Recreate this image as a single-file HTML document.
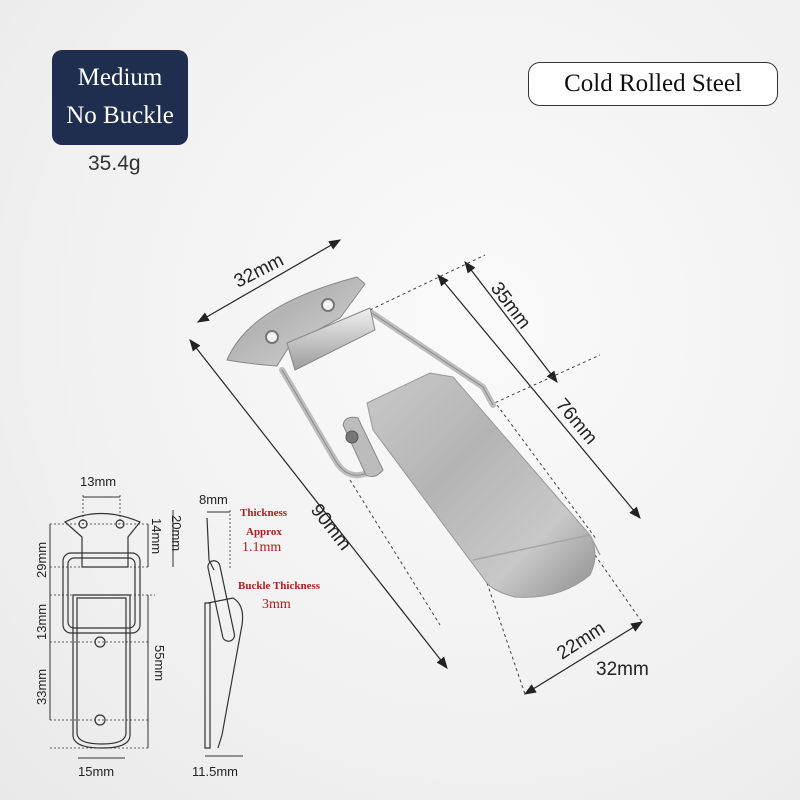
<!DOCTYPE html>
<html><head><meta charset="utf-8"><style>
html,body{margin:0;padding:0;}
body{width:800px;height:800px;overflow:hidden;background:radial-gradient(ellipse at 60% 40%,#fafafa 0%,#f1f1f1 60%,#e9e9e9 100%);font-family:"Liberation Serif",serif;position:relative;}
.badge{position:absolute;left:52px;top:50px;width:136px;height:95px;background:#1f2e4e;border-radius:10px;color:#fff;font-size:25px;text-align:center;line-height:38px;padding-top:9px;box-sizing:border-box;}
.w{position:absolute;left:88px;top:152px;font-size:21px;color:#333;font-family:"Liberation Sans",sans-serif;}
.pill{position:absolute;left:528px;top:62px;width:250px;height:44px;border:1.5px solid #333;border-radius:12px;box-sizing:border-box;font-size:25px;text-align:center;line-height:42px;color:#111;background:#fff;}
svg{position:absolute;left:0;top:0;}
</style></head><body>
<div class="badge">Medium<br>No Buckle</div>
<div class="w">35.4g</div>
<div class="pill">Cold Rolled Steel</div>
<svg width="800" height="800" viewBox="0 0 800 800">
<defs>
<linearGradient id="m" x1="0" y1="0" x2="1" y2="1"><stop offset="0" stop-color="#c9c9c9"/><stop offset=".4" stop-color="#b4b4b4"/><stop offset=".75" stop-color="#c8c8c8"/><stop offset="1" stop-color="#8f8f8f"/></linearGradient>
<linearGradient id="m2" x1="0" y1="0" x2="0" y2="1"><stop offset="0" stop-color="#f0f0f0"/><stop offset="1" stop-color="#9c9c9c"/></linearGradient>
<marker id="a" markerWidth="10" markerHeight="8" refX="9" refY="4" orient="auto-start-reverse"><path d="M0,0 L10,4 L0,8Z" fill="#222"/></marker>
</defs>
<g fill="none" stroke="#222" stroke-width="1.2" marker-start="url(#a)" marker-end="url(#a)">
<line x1="198" y1="322" x2="340" y2="240"/>
<line x1="465" y1="262" x2="557" y2="382"/>
<line x1="438" y1="275" x2="640" y2="518"/>
<line x1="190" y1="340" x2="447" y2="668"/>
<line x1="525" y1="694" x2="642" y2="622"/>
</g>
<g stroke="#444" stroke-width="1" stroke-dasharray="3,3" fill="none">
<line x1="370" y1="310" x2="485" y2="255"/>
<line x1="490" y1="405" x2="600" y2="355"/>
<line x1="487" y1="583" x2="525" y2="694"/>
<line x1="595" y1="555" x2="642" y2="622"/>
<line x1="497" y1="405" x2="597" y2="540"/>
<line x1="350" y1="480" x2="440" y2="625"/>
</g>
<g font-family="Liberation Sans,sans-serif" font-size="19" fill="#222">
<text transform="translate(238,288) rotate(-27)">32mm</text>
<text transform="translate(490,288) rotate(53)">35mm</text>
<text transform="translate(555,405) rotate(50)">76mm</text>
<text transform="translate(310,510) rotate(52)">90mm</text>
<text transform="translate(562,660) rotate(-33)">22mm</text>
<text x="596" y="675">32mm</text>
</g>
<!-- latch -->
<path d="M227,360 Q250,305 357,277 L365,284 L340,318 L290,345 L277,366 Q250,364 227,360Z" fill="url(#m)" stroke="#888"/>
<circle cx="272" cy="337" r="6" fill="#f4f4f4" stroke="#777" stroke-width="2"/>
<circle cx="328" cy="305" r="6" fill="#f4f4f4" stroke="#777" stroke-width="2"/>
<path d="M282,370 L288,380 L335,460 Q345,477 360,475 L380,470 M372,313 L450,365 L483,387 L493,405" fill="none" stroke="#bdbdbd" stroke-width="6" stroke-linecap="round"/>
<path d="M282,370 L288,380 L335,460 Q345,477 360,475 L380,470 M372,313 L450,365 L483,387 L493,405" fill="none" stroke="#8a8a8a" stroke-width="1"/>
<path d="M287,343 L370,308 L375,330 L295,370Z" fill="url(#m2)" stroke="#888"/>
<path d="M343,425 Q345,415 358,418 L383,470 Q375,480 366,475Z" fill="#bcbcbc" stroke="#888"/>
<path d="M367,403 L430,373 L453,377 L590,535 Q600,555 590,575 Q560,600 515,597 Q495,592 487,583 L373,430Z" fill="url(#m)" stroke="#999"/>
<path d="M473,560 L590,535 L600,555" fill="none" stroke="#a5a5a5" stroke-width="1.5"/>
<circle cx="352" cy="437" r="6" fill="#777" stroke="#555"/>
<!-- small drawings -->
<g fill="none" stroke="#333" stroke-width="1.2">
<path d="M65,522 Q100,505 140,522 L128,537 L128,567 L82,567 L82,537Z"/>
<circle cx="83" cy="524" r="4"/><circle cx="120" cy="524" r="4"/>
<rect x="63" y="553" width="77" height="80" rx="8"/>
<rect x="68" y="558" width="67" height="70" rx="6"/>
<path d="M73,595 L130,595 L130,735 Q130,748 102,748 Q73,748 73,735Z"/>
<path d="M77,598 L126,598 L126,733 Q126,744 102,744 Q77,744 77,733Z"/>
<circle cx="100" cy="642" r="5"/><circle cx="100" cy="720" r="5"/>
<path d="M207,518 L209,560 L214,570"/>
<rect x="215" y="560" width="12" height="82" rx="6" transform="rotate(-12 221 600)"/>
<path d="M205,603 L205,748 L210,748 L210,603Z"/>
<path d="M208,603 L233,598 Q245,605 242,625 L222,735 L218,748"/>
</g>
<g stroke="#333" stroke-width=".8" stroke-dasharray="2,2" fill="none">
<line x1="50" y1="524" x2="150" y2="524"/><line x1="50" y1="567" x2="150" y2="567"/>
<line x1="50" y1="595" x2="155" y2="595"/><line x1="50" y1="642" x2="150" y2="642"/>
<line x1="50" y1="720" x2="150" y2="720"/><line x1="50" y1="748" x2="150" y2="748"/>
<line x1="83" y1="495" x2="83" y2="524"/><line x1="120" y1="495" x2="120" y2="524"/>
<line x1="230" y1="510" x2="230" y2="570"/>
</g>
<g stroke="#333" stroke-width="1" fill="none">
<line x1="83" y1="497" x2="120" y2="497"/><line x1="50" y1="524" x2="50" y2="595"/>
<line x1="50" y1="595" x2="50" y2="642"/><line x1="50" y1="642" x2="50" y2="720"/>
<line x1="148" y1="524" x2="148" y2="567"/><line x1="173" y1="510" x2="173" y2="567"/>
<line x1="148" y1="595" x2="148" y2="748"/><line x1="78" y1="758" x2="125" y2="758"/>
<line x1="205" y1="756" x2="243" y2="756"/><line x1="207" y1="512" x2="230" y2="512"/>
</g>
<g font-family="Liberation Sans,sans-serif" font-size="13" fill="#222">
<text x="80" y="486">13mm</text>
<text x="78" y="776">15mm</text>
<text x="199" y="504">8mm</text>
<text x="192" y="776">11.5mm</text>
<text transform="translate(46,578) rotate(-90)">29mm</text>
<text transform="translate(46,640) rotate(-90)">13mm</text>
<text transform="translate(46,705) rotate(-90)">33mm</text>
<text transform="translate(152,518) rotate(90)">14mm</text>
<text transform="translate(172,515) rotate(90)">20mm</text>
<text transform="translate(155,645) rotate(90)">55mm</text>
</g>
<g font-family="Liberation Serif,serif" fill="#b01c1c" font-weight="bold">
<text x="240" y="516" font-size="11">Thickness</text>
<text x="246" y="535" font-size="11">Approx</text>
<text x="242" y="551" font-size="14" font-weight="normal">1.1mm</text>
<text x="238" y="589" font-size="11">Buckle Thickness</text>
<text x="262" y="608" font-size="14" font-weight="normal">3mm</text>
</g>
</svg>
</body></html>
